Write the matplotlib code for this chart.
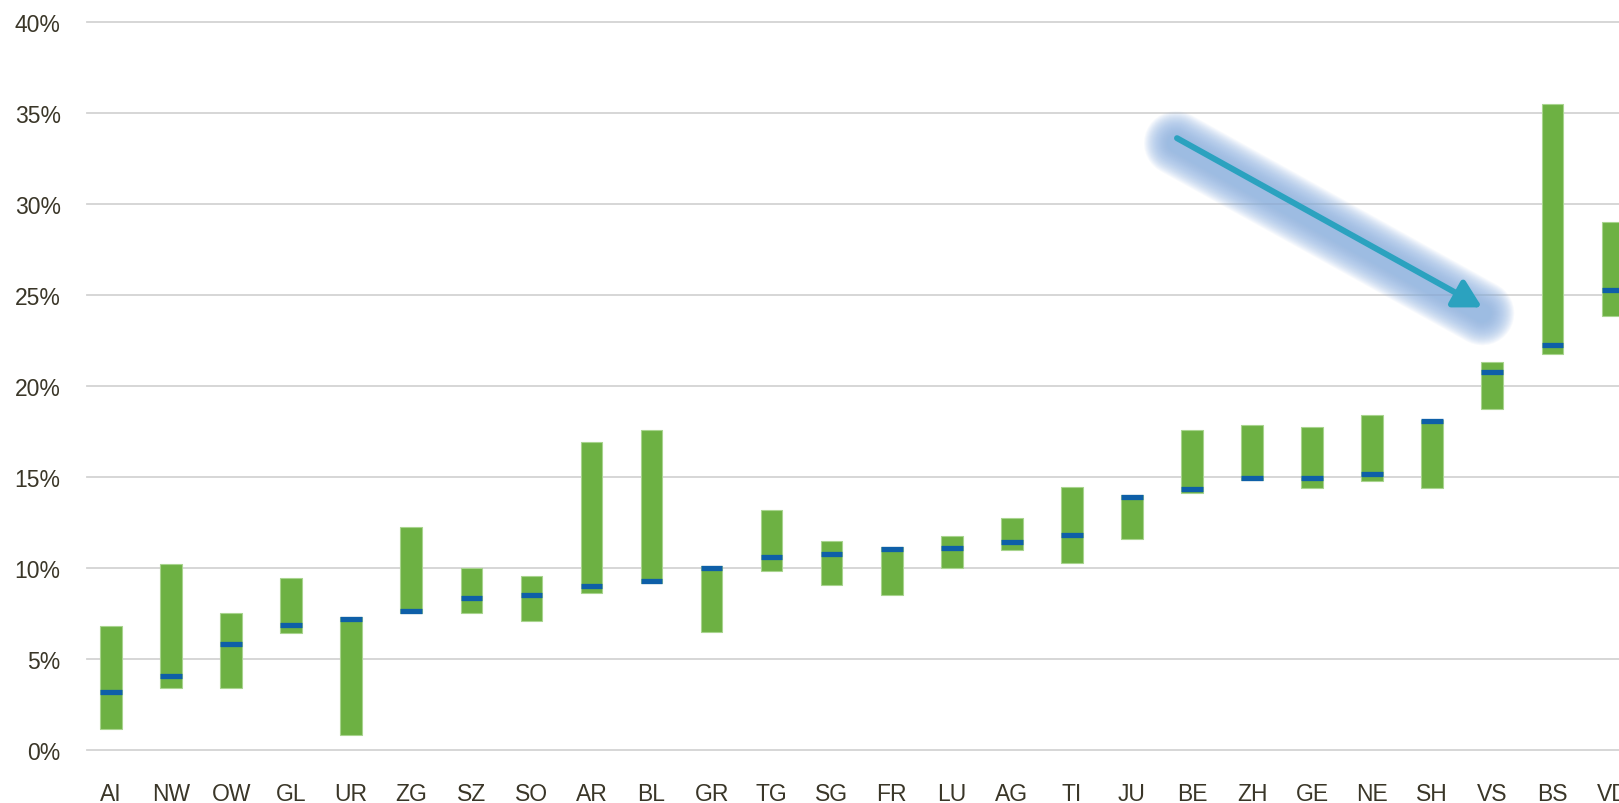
import matplotlib
matplotlib.use("Agg")
import matplotlib.pyplot as plt
import matplotlib.transforms as mtransforms
import numpy as np

# ---- data (percent) ----
cantons = ["AI", "NW", "OW", "GL", "UR", "ZG", "SZ", "SO", "AR", "BL", "GR", "TG", "SG",
           "FR", "LU", "AG", "TI", "JU", "BE", "ZH", "GE", "NE", "SH", "VS", "BS", "VD"]
range_low = [1.13, 3.36, 3.36, 6.42, 0.80, 7.50, 7.53, 7.09, 8.59, 9.15, 6.47, 9.81, 9.03,
             8.51, 9.99, 10.96, 10.23, 11.56, 14.09, 14.82, 14.40, 14.75, 14.40, 18.74, 21.72, 23.83]
range_high = [6.78, 10.18, 7.51, 9.43, 7.30, 12.23, 10.00, 9.56, 16.88, 17.56, 10.09, 13.19, 11.49,
              11.16, 11.73, 12.75, 14.43, 13.98, 17.57, 17.84, 17.73, 18.37, 18.13, 21.32, 35.48, 29.01]
current = [3.14, 4.02, 5.81, 6.87, 7.17, 7.62, 8.35, 8.50, 8.99, 9.26, 9.96, 10.58, 10.73,
           11.02, 11.07, 11.42, 11.82, 13.87, 14.31, 14.93, 14.95, 15.13, 18.04, 20.73, 22.25, 25.26]
yticks = [0, 5, 10, 15, 20, 25, 30, 35, 40]
ytick_labels = [f"{t}%" for t in yticks]

# arrow annotation (data coords)
arrow_start = (17.75, 33.6)
arrow_end = (22.83, 24.3)

GREEN = "#6DB143"
GREEN_EDGE = "#A8D48E"
BLUE = "#0E5FA8"
TEXT = "#3A3628"
GRID = "#D3D3D3"

fig = plt.figure(figsize=(16.19, 8.04), dpi=100)
ax = fig.add_axes([87 / 1619, (804 - 750.6) / 804, 1 - 87 / 1619, (750.6 - 22.7) / 804])

x = np.arange(len(cantons))
lo = np.array(range_low)
hi = np.array(range_high)
w = 0.36
ax.bar(x, hi - lo, bottom=lo, width=w, color=GREEN, edgecolor=GREEN_EDGE, linewidth=0.8, zorder=2)
ax.hlines(current, x - w / 2, x + w / 2, colors=BLUE, linewidth=3.8, zorder=3, capstyle="butt")

ax.set_xlim(-0.40, 25.11)
ax.set_ylim(0, 40)
ax.set_yticks(yticks)
ax.set_yticklabels(ytick_labels)
ax.set_xticks(x)
ax.set_xticklabels(cantons)
for s in ax.spines.values():
    s.set_visible(False)
ax.tick_params(axis="y", length=0, pad=19, labelsize=16.5, labelcolor=TEXT)
ax.tick_params(axis="x", length=0, pad=23, labelsize=16.5, labelcolor=TEXT)
for lab in ax.get_xticklabels() + ax.get_yticklabels():
    lab.set_fontfamily(["Liberation Sans", "DejaVu Sans"])
ax.yaxis.grid(True, color=GRID, linewidth=1.3, clip_on=False)
ax.set_axisbelow(True)

# soft glow around arrow (slightly offset downward)
(x0, y0), (x1, y1) = arrow_start, arrow_end
glow_tr = mtransforms.offset_copy(ax.transData, fig=fig, x=-1, y=-5, units="dots")
for lw_px in np.linspace(64, 18, 24):
    ax.plot([x0, x1 + 0.02], [y0, y1 - 0.05], color="#8DB2E2", alpha=0.065,
            linewidth=lw_px * 0.72, solid_capstyle="round", zorder=4, transform=glow_tr)

ax.annotate("", xy=arrow_end, xytext=arrow_start,
            arrowprops=dict(arrowstyle="-|>,head_length=0.45,head_width=0.25", color="#2BA2BF",
                            lw=4.3, mutation_scale=36, shrinkA=0, shrinkB=0),
            zorder=5)

fig.savefig("out.png", dpi=100, facecolor="white")
